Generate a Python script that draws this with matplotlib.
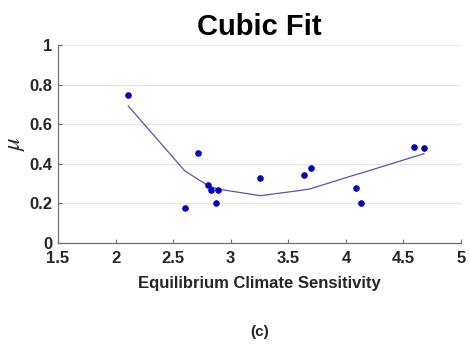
import numpy as np
import matplotlib.pyplot as plt

plt.rcParams['font.family'] = ['Liberation Sans', 'DejaVu Sans']
plt.rcParams['mathtext.fontset'] = 'stix'

# climate sensitivity vs mu (data points)
ecs = [2.11, 2.60, 2.72, 2.80, 2.826, 2.872, 2.893, 3.258, 3.635, 3.693, 4.084, 4.133, 4.594, 4.678]
mu = [0.746, 0.177, 0.453, 0.293, 0.266, 0.200, 0.266, 0.330, 0.345, 0.377, 0.279, 0.204, 0.485, 0.478]
# fitted curve values at the sorted x
fit_mu = [0.692, 0.365, 0.320, 0.292, 0.285, 0.276, 0.272, 0.239, 0.268, 0.274, 0.345, 0.353, 0.436, 0.451]

xticks = [1.5, 2, 2.5, 3, 3.5, 4, 4.5, 5]
yticks = [0, 0.2, 0.4, 0.6, 0.8, 1]

fig = plt.figure(figsize=(4.69, 3.48), dpi=100)
ax = fig.add_axes([0.1237, 0.3017, 0.8593, 0.569])

ax.plot(ecs, fit_mu, color='#5454bc', lw=0.9)
ax.scatter(ecs, mu, s=14, color='#0000c0', zorder=3)

ax.set_xlim(1.5, 5)
ax.set_ylim(0, 1)
ax.set_xticks(xticks)
ax.set_xticklabels([f'{t:g}' for t in xticks])
ax.set_yticks(yticks)
ax.set_yticklabels([f'{t:g}' for t in yticks])
ax.yaxis.grid(True, color='#e6e6e6', lw=0.8)
ax.set_axisbelow(True)

for s in ['top', 'right']:
    ax.spines[s].set_visible(False)
for s in ['left', 'bottom']:
    ax.spines[s].set_color('#707070')
    ax.spines[s].set_linewidth(0.9)
ax.tick_params(direction='in', length=3, color='#707070', labelsize=12)
ax.tick_params(axis='x', pad=6)
ax.tick_params(axis='y', pad=4)
for lab in ax.get_xticklabels() + ax.get_yticklabels():
    lab.set_fontweight('bold')
    lab.set_color('#262626')

ax.set_title('Cubic Fit', fontsize=21, fontweight='bold', pad=7)
ax.set_xlabel('Equilibrium Climate Sensitivity', fontsize=12, fontweight='bold', color='#262626', labelpad=7)
ax.set_ylabel(r'$\mu$', fontsize=18, color='#262626', labelpad=2)
fig.text(0.553, 0.046, '(c)', ha='center', va='center', fontsize=11, fontweight='bold', color='#262626')

fig.savefig('out.png', dpi=100)
